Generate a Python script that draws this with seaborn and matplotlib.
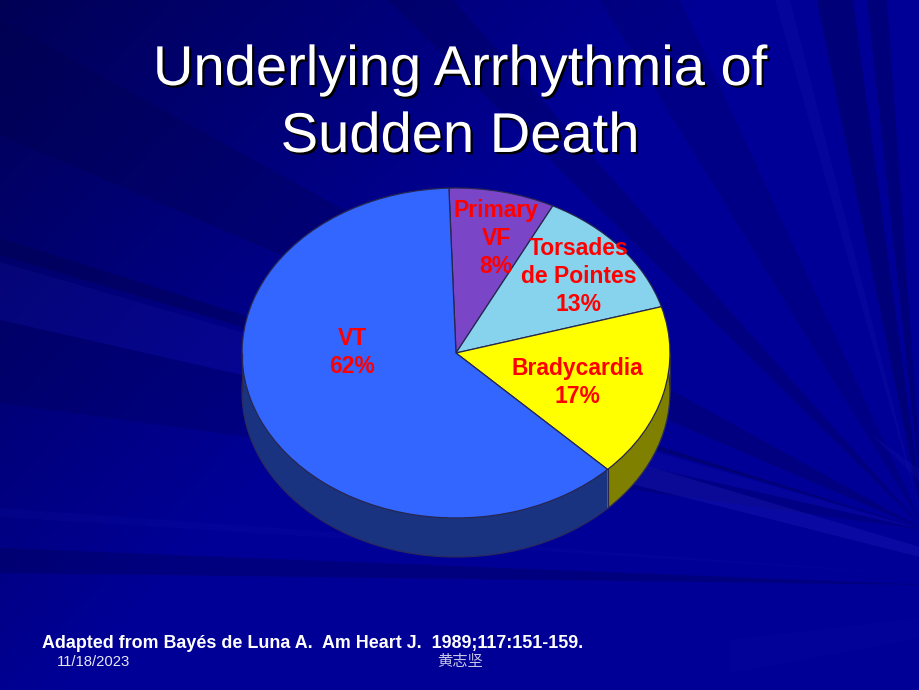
import numpy as np
import matplotlib
matplotlib.use("Agg")
import matplotlib.pyplot as plt
import matplotlib.patheffects as pe
from matplotlib.patches import Circle, Polygon
import seaborn as sns

# chart data
slice_labels = ["Primary\nVF", "Torsades\nde Pointes", "Bradycardia", "VT"]
slice_values = [8, 13, 17, 62]
top_colors = ["#7B45C8", "#87D3EE", "#FFFF00", "#3366FF"]
side_colors = ["#3E2364", "#446A77", "#808000", "#1A3380"]

title_lines = ["Underlying Arrhythmia of", "Sudden Death"]
source_text = "Adapted from Bayés de Luna A.  Am Heart J.  1989;117:151-159."
date_text = "11/18/2023"
footer_text = "黄志坚"

# layout, in pixels of the 920x690 slide
W, H = 920, 690
CX, CY, RX, RY = 456, 353, 214, 165
DEPTH = 39
START = 91.9
LABEL_POS = [(496, 217), (579, 255), (577, 375), (352, 345)]  # x, first baseline
LABEL_STEP = 28
TITLE_BASE = [85, 152]

# background streaks: corner points, colour, alpha
F = (925, 530)
DARK = "#00004A"
LIGHT = "#2424BE"
STREAKS = [
    ([(388, 0), (453, 0), F], DARK, 0.28),
    ([(600, 0), (680, 0), F], DARK, 0.2),
    ([(817, 0), (853, 0), F], DARK, 0.38),
    ([(867, 0), (887, 0), F], DARK, 0.35),
    ([(0, 20), (0, 135), F], DARK, 0.28),
    ([(0, 238), (0, 255), F], DARK, 0.4),
    ([(0, 320), (0, 403), F], DARK, 0.22),
    ([(0, 548), (0, 573), (935, 585)], DARK, 0.3),
    ([(0, 262), (0, 320), F], LIGHT, 0.14),
    ([(600, 452), (920, 547), (920, 557), (600, 476)], LIGHT, 0.3),
    ([(0, 508), (0, 517), (925, 575)], LIGHT, 0.1),
    ([(730, 640), (730, 673), (920, 638), (920, 618)], LIGHT, 0.08),
    ([(870, 433), (920, 470), (920, 482)], LIGHT, 0.15),
    ([(775, 0), (790, 0), F], LIGHT, 0.15),
]


def main():
    sns.set_theme(style="white")
    plt.rcParams["font.family"] = ["Liberation Sans", "Noto Sans CJK SC", "DejaVu Sans"]

    fig = plt.figure(figsize=(W / 100, H / 100), dpi=100)

    # background
    bg = fig.add_axes([0, 0, 1, 1], zorder=0)
    yy, xx = np.mgrid[0:H, 0:W]
    shade = 85 + 65 * np.clip(yy / 750 + xx / 700, 0, 1)
    img = np.dstack([np.zeros_like(shade), np.zeros_like(shade), shade]) / 255
    bg.imshow(img, extent=(0, W, H, 0), aspect="auto", interpolation="bilinear")
    for pts, col, alpha in STREAKS:
        bg.add_patch(Polygon(pts, closed=True, fc=col, ec="none", alpha=alpha))
    bg.set_xlim(0, W)
    bg.set_ylim(H, 0)
    bg.axis("off")

    # pie axes: one data unit is RX pixels across and RY pixels down
    xlim = 1.3
    ylim = 1.5
    ax = fig.add_axes(
        [(CX - xlim * RX) / W, 1 - (CY + ylim * RY) / H, 2 * xlim * RX / W, 2 * ylim * RY / H],
        zorder=1,
    )
    depth = DEPTH / RY
    for d in np.arange(DEPTH, 0, -1) / RY:
        ax.pie(slice_values, colors=side_colors, startangle=START, counterclock=False,
               center=(0, -d), radius=1, wedgeprops={"linewidth": 0}, frame=True)
    ax.add_patch(Circle((0, -depth), 1, fill=False, ec="#2A2A60", lw=0.9))
    ax.pie(slice_values, colors=top_colors, startangle=START, counterclock=False,
           center=(0, 0), radius=1, frame=True,
           wedgeprops={"linewidth": 0.9, "edgecolor": "#26264F"})

    # seam on the side wall, where the last two slices meet
    seam = np.radians(START - 360 * sum(slice_values[:3]) / sum(slice_values))
    sx, sy = np.cos(seam), np.sin(seam)
    ax.plot([sx, sx], [sy, sy - depth], color="#26264F", lw=0.9)
    ax.plot([1, 1], [0, -depth], color="#26264F", lw=0.9)
    ax.plot([-1, -1], [0, -depth], color="#26264F", lw=0.9)

    ax.set_xlim(-xlim, xlim)
    ax.set_ylim(-ylim, ylim)
    ax.set_aspect("auto")
    ax.axis("off")

    # text layer
    tx = fig.add_axes([0, 0, 1, 1], zorder=2)
    tx.set_xlim(0, W)
    tx.set_ylim(H, 0)
    tx.axis("off")
    tx.patch.set_alpha(0)

    for line, y in zip(title_lines, TITLE_BASE):
        t = tx.text(460, y, line, color="white", fontsize=40.4, ha="center", va="baseline")
        t.set_path_effects([pe.SimplePatchShadow(offset=(1.6, -1.6), shadow_rgbFace="black", alpha=1),
                            pe.Normal()])

    # one text per line, so the label boxes stay apart as on the slide
    for label, value, (x, y) in zip(slice_labels, slice_values, LABEL_POS):
        for i, line in enumerate(f"{label}\n{value}%".split("\n")):
            tx.text(x, y + i * LABEL_STEP, line, color="#FF0000", fontsize=16.5, fontweight="bold",
                    ha="center", va="baseline")

    tx.text(42, 643, source_text, color="white", fontsize=12.85, fontweight="bold", ha="left", va="center")
    tx.text(57, 662, date_text, color="#E6E6F5", fontsize=10.7, ha="left", va="center")
    tx.text(460, 662, footer_text, color="#C8C8E6", fontsize=11, ha="center", va="center")

    fig.savefig("out.png", dpi=100)


if __name__ == "__main__":
    main()
